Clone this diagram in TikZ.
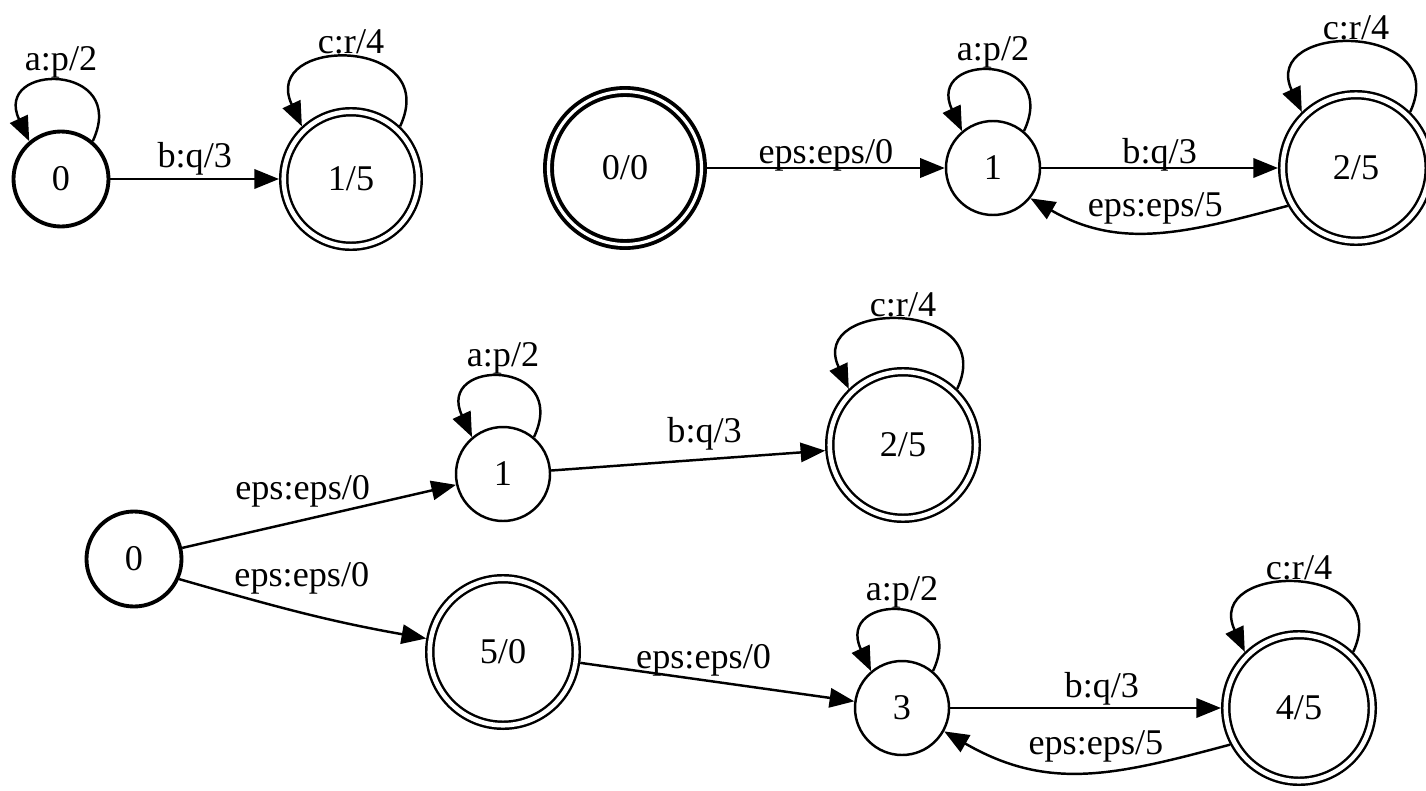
\documentclass[tikz,border=0pt]{standalone}
\usepackage{fontspec}
\setmainfont{Liberation Serif}
\usetikzlibrary{arrows.meta}

\begin{document}
\begin{tikzpicture}[
  every node/.style={font=\fontsize{10.3pt}{12pt}\selectfont},
  stnode/.style={circle,draw,line width=0.7pt,minimum size=0.94cm,inner sep=0pt},
  startnode/.style={stnode,line width=1.1pt,minimum size=0.95cm},
  finalnode/.style={circle,draw,line width=0.7pt,double,double distance=1.3pt,minimum size=1.465cm,inner sep=0pt,outer sep=1.35pt},
  bothnode/.style={finalnode,line width=1.1pt,double distance=0.9pt,minimum size=1.53cm,outer sep=1.55pt},
  trans/.style={line width=0.7pt,-{Triangle[length=7pt,width=5.5pt]}},
  lab/.style={inner sep=1pt,text depth=0pt}
]
\clip (0,0) rectangle (14.26,7.9);
% first machine
\node[startnode] (a0) at (0.61,6.11) {0};
\node[finalnode,minimum size=1.345cm] (a1) at (3.51,6.11) {1/5};
\draw[trans] (a0.50) to[out=65,in=115,distance=0.87cm] node[lab,above=2pt] {a:p/2} (a0.130);
\draw[trans] (a1.47) to[out=65,in=115,distance=1.0cm] node[lab,above] {c:r/4} (a1.133);
\draw[trans] (a0) -- node[lab,above=2pt] {b:q/3} (a1);
% closure with a new initial state
\node[bothnode] (b0) at (6.25,6.22) {0/0};
\node[stnode] (b1) at (9.93,6.22) {1};
\node[finalnode] (b2) at (13.56,6.22) {2/5};
\draw[trans] (b1.50) to[out=65,in=115,distance=0.87cm] node[lab,above=2pt] {a:p/2} (b1.130);
\draw[trans] (b2.46) to[out=65,in=115,distance=1.0cm] node[lab,above] {c:r/4} (b2.134);
\draw[trans] (b0) -- node[lab,above] {eps:eps/0} (b1);
\draw[trans] (b1) -- node[lab,above] {b:q/3} (b2);
\draw[trans] (b2.209) to[out=195,in=-30,distance=1.04cm] node[lab,above=3pt] {eps:eps/5} (b1.-39);
% union of both
\node[startnode] (c0) at (1.34,2.31) {0};
\node[stnode] (c1) at (5.03,3.16) {1};
\node[finalnode] (c2) at (9.03,3.45) {2/5};
\node[finalnode] (c5) at (5.03,1.38) {5/0};
\node[stnode] (c3) at (9.02,0.82) {3};
\node[finalnode] (c4) at (12.99,0.82) {4/5};
\draw[trans] (c1.50) to[out=65,in=115,distance=0.87cm] node[lab,above=2pt] {a:p/2} (c1.130);
\draw[trans] (c2.46) to[out=65,in=115,distance=1.0cm] node[lab,above] {c:r/4} (c2.134);
\draw[trans] (c3.50) to[out=65,in=115,distance=0.87cm] node[lab,above=2pt] {a:p/2} (c3.130);
\draw[trans] (c4.46) to[out=65,in=115,distance=1.0cm] node[lab,above] {c:r/4} (c4.134);
\draw[trans] (c0) -- node[lab,above=4.5pt,pos=0.44] {eps:eps/0} (c1);
\draw[trans] (c0.-24) to[out=-16,in=170] node[lab,above=6pt] {eps:eps/0} (c5.170);
\draw[trans] (c1) -- node[lab,above=3.5pt,pos=0.56] {b:q/3} (c2);
\draw[trans] (c5) -- node[lab,above=2pt,pos=0.45] {eps:eps/0} (c3);
\draw[trans] (c3) -- node[lab,above=1.5pt,pos=0.56] {b:q/3} (c4);
\draw[trans] (c4.208) to[out=195,in=-30,distance=1.2cm] node[lab,above=3.5pt,pos=0.45] {eps:eps/5} (c3.-29);
\end{tikzpicture}
\end{document}
